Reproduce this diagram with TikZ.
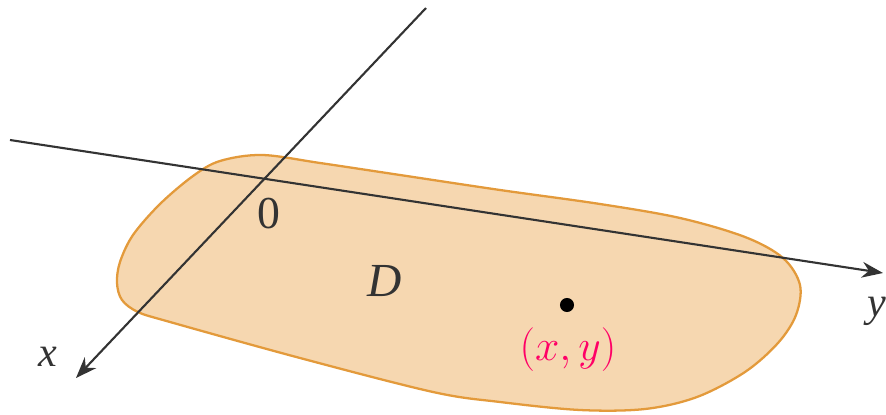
\documentclass[tikz,border=0pt]{standalone}
\usepackage{fontspec}
\setmainfont{Liberation Serif}
\usetikzlibrary{arrows.meta}
\definecolor{regionfill}{HTML}{F6D7B0}
\definecolor{regionedge}{HTML}{E39A3B}
\definecolor{axisgray}{HTML}{333333}
\definecolor{pointpink}{HTML}{FF0066}
\tikzset{
  axis/.style      = {draw=axisgray, line width=1.2pt, -{Stealth[length=12pt,width=9pt]}},
  region/.style    = {fill=regionfill, draw=regionedge, line width=1.3pt},
  axislabel/.style = {font=\fontsize{24}{28}\selectfont\itshape, text=axisgray, inner sep=0pt},
  origin/.style    = {font=\fontsize{26}{30}\selectfont, text=axisgray, inner sep=0pt},
  point/.style     = {circle, fill=black, inner sep=0pt, minimum size=8pt},
  pointlabel/.style= {font=\fontsize{26}{30}\selectfont, text=pointpink, inner sep=0pt},
}

\begin{document}
\begin{tikzpicture}[x=0.02cm, y=-0.02cm]
  \useasboundingbox (0,0) rectangle (886,415);

  % the region D
  \draw[region] plot[smooth cycle, tension=0.55] coordinates {
    (262,155) (320,163) (400,175) (500,190) (600,204) (680,218)
    (745,237) (783,258) (800,285) (796,315) (778,343) (745,372)
    (697,397) (645,409) (580,410) (500,402) (433,392) (300,358)
    (170,322) (138,312) (122,300) (117,283) (120,262) (133,235)
    (160,204) (193,176) (220,161)};

  % axes
  \coordinate (xstart) at (426,8);
  \coordinate (xend)   at (76,378);
  \coordinate (ystart) at (10,140);
  \coordinate (yend)   at (883,273);
  \draw[axis] (xstart) -- (xend);
  \draw[axis] (ystart) -- (yend);

  \node[axislabel] (xlab) at (48,357) {x};
  \node[axislabel] (ylab) at (877,311) {y};
  \node[origin]    (zero) at (269,214) {0};
  \node[axislabel, font=\fontsize{27}{31}\selectfont\itshape] (dlab) at (385,281) {D};

  \node[point] (pt) at (567,305) {};
  \node[pointlabel] (ptlab) at (568,350) {$(x,y)$};
\end{tikzpicture}
\end{document}
